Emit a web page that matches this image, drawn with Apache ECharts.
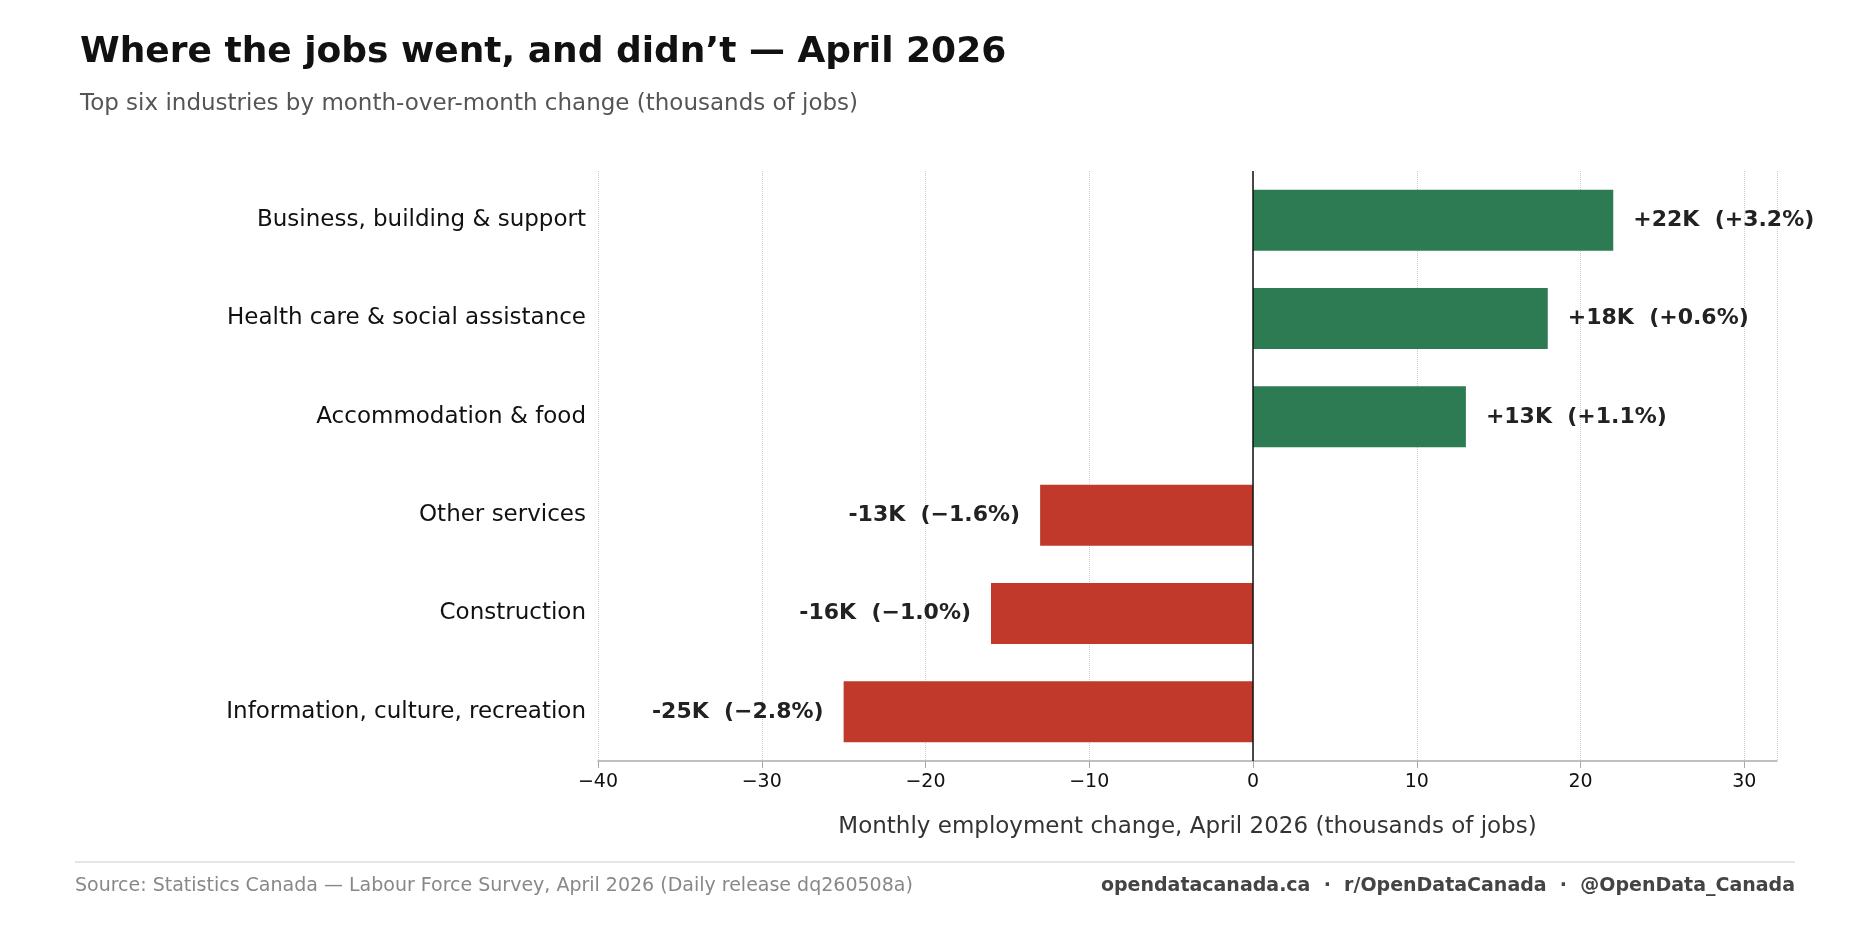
<!DOCTYPE html>
<html><head><meta charset="utf-8">
<script src="https://cdn.jsdelivr.net/npm/echarts@6/dist/echarts.min.js"></script>
<style>html,body{margin:0;padding:0;background:#fff}#c{width:1870px;height:951px}</style>
</head><body><div id="c"></div>
<script>
const categories = ["Information, culture, recreation","Construction","Other services","Accommodation & food","Health care & social assistance","Business, building & support"];
const values = [-25,-16,-13,13,18,22];
const pctLabels = ["−2.8%","−1.0%","−1.6%","+1.1%","+0.6%","+3.2%"];
const xTicks = [-40,-30,-20,-10,0,10,20,30];
const F = "DejaVu Sans";
const chart = echarts.init(document.getElementById('c'));
chart.setOption({
  animation:false,
  textStyle:{fontFamily:F},
  title:[
    {text:"Where the jobs went, and didn’t — April 2026",left:75,top:30,textStyle:{fontFamily:F,fontSize:36,fontWeight:'bold',color:'#111'}},
    {text:"Top six industries by month-over-month change (thousands of jobs)",left:75,top:88,textStyle:{fontFamily:F,fontSize:23,fontWeight:'normal',color:'#555'}}
  ],
  grid:{left:598,right:93,top:171,bottom:190},
  xAxis:{type:'value',min:-40,max:32,interval:10,
    name:"Monthly employment change, April 2026 (thousands of jobs)",nameLocation:'middle',nameGap:55,
    nameTextStyle:{fontFamily:F,fontSize:23,color:'#333'},
    axisLine:{show:true,lineStyle:{color:'#aaa',width:1.5}},axisTick:{show:true,length:7,lineStyle:{color:'#aaa'}},
    axisLabel:{fontFamily:F,fontSize:19,color:'#111',margin:12,showMaxLabel:false,formatter:v=>xTicks.includes(v)?String(v).replace('-','−'):''},
    splitLine:{show:true,lineStyle:{color:'#ccc',type:'dotted'}}},
  yAxis:{type:'category',data:categories,axisLine:{show:false},axisTick:{show:false},
    axisLabel:{fontFamily:F,fontSize:23,color:'#111',margin:12}},
  series:[{type:'bar',barCategoryGap:'38%',
    data:values.map((v,i)=>({value:v,itemStyle:{color:v>=0?'#2c7b52':'#c0392b'},
      label:{show:true,position:v>=0?'right':'left',distance:20,fontFamily:F,fontSize:22,fontWeight:'bold',color:'#222',
        formatter:(v>=0?'+':'')+v+'K  ('+pctLabels[i]+')'}})),
    markLine:{silent:true,symbol:'none',label:{show:false},lineStyle:{color:'#111',type:'solid',width:1.5},data:[{xAxis:0}]}
  }],
  graphic:[
    {type:'line',shape:{x1:75,y1:862,x2:1795,y2:862},style:{stroke:'#ccc',lineWidth:1.2}},
    {type:'text',left:75,top:877,style:{text:"Source: Statistics Canada — Labour Force Survey, April 2026 (Daily release dq260508a)",font:"19px 'DejaVu Sans'",fill:'#888'}},
    {type:'text',right:75,top:877,style:{text:"opendatacanada.ca  ·  r/OpenDataCanada  ·  @OpenData_Canada",font:"bold 19px 'DejaVu Sans'",fill:'#444'}}
  ]
});
</script></body></html>
